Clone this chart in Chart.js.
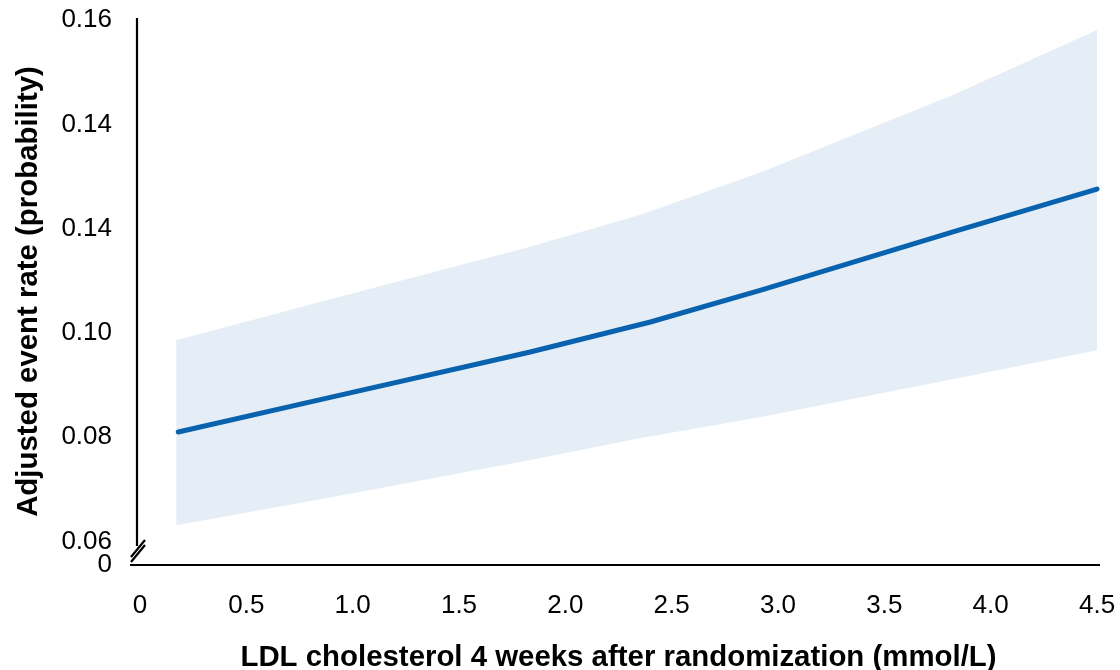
<!DOCTYPE html>
<html lang="en">
<head>
<meta charset="utf-8" />
<title>Adjusted event rate vs LDL cholesterol</title>
<style>
  body { margin: 0; background: #fff; }
  #wrap { width: 1120px; height: 670px; }
</style>
</head>
<body>
<div id="wrap"><canvas id="chart"></canvas></div>
<script src="https://cdn.jsdelivr.net/npm/chart.js@4.4.4/dist/chart.umd.min.js"></script>
<script>
  // LDL values (mmol/L) and fitted event rate
  const lineX = [0.18, 0.9, 1.83, 2.4, 2.92, 3.85, 4.5];
  const lineY = [0.081, 0.0877, 0.0963, 0.1021, 0.1082, 0.1197, 0.1276];

  // confidence band
  const bandX = [0.17, 0.9, 1.83, 2.35, 2.92, 3.82, 4.5];
  const bandUpper = [0.0986, 0.1065, 0.1165, 0.1226, 0.1308, 0.1456, 0.1581];
  const bandLower = [0.0631, 0.0685, 0.0756, 0.0798, 0.0839, 0.0911, 0.0967];

  // axis ticks (the y axis is broken below 0.06)
  const xTicks = [0, 0.5, 1.0, 1.5, 2.0, 2.5, 3.0, 3.5, 4.0, 4.5];
  const xTickLabels = ['0', '0.5', '1.0', '1.5', '2.0', '2.5', '3.0', '3.5', '4.0', '4.5'];
  const yTicks = [0.0555, 0.06, 0.08, 0.10, 0.12, 0.14, 0.16];
  const yTickLabels = ['0', '0.06', '0.08', '0.10', '0.14', '0.14', '0.16'];

  const pts = (xs, ys) => xs.map((x, i) => ({ x: x, y: ys[i] }));

  const brokenAxes = {
    id: 'brokenAxes',
    afterDraw(chart) {
      const { ctx, chartArea: a } = chart;
      ctx.save();
      ctx.strokeStyle = '#000';
      ctx.lineWidth = 2.2;
      ctx.beginPath();
      ctx.moveTo(a.left, a.top);
      ctx.lineTo(a.left, a.bottom - 19);
      ctx.moveTo(a.left - 7, a.bottom);
      ctx.lineTo(a.right, a.bottom);
      // break marks
      ctx.moveTo(a.left - 6, a.bottom - 8);
      ctx.lineTo(a.left + 8, a.bottom - 25);
      ctx.moveTo(a.left - 6, a.bottom - 3);
      ctx.lineTo(a.left + 8, a.bottom - 20);
      ctx.stroke();
      ctx.restore();
    }
  };

  const font = 'Arial, "Liberation Sans", sans-serif';

  new Chart(document.getElementById('chart'), {
    type: 'line',
    data: {
      datasets: [
        {
          data: pts(bandX, bandLower),
          borderWidth: 0,
          pointRadius: 0,
          fill: false,
          order: 2
        },
        {
          data: pts(bandX, bandUpper),
          borderWidth: 0,
          pointRadius: 0,
          fill: '-1',
          backgroundColor: '#e5eef6',
          order: 1
        },
        {
          data: pts(lineX, lineY),
          borderColor: '#0862ad',
          borderWidth: 5,
          borderCapStyle: 'round',
          pointRadius: 0,
          fill: false,
          tension: 0,
          order: 0
        }
      ]
    },
    options: {
      responsive: true,
      maintainAspectRatio: false,
      animation: false,
      layout: { padding: { left: 0, right: 20, top: 18, bottom: 0 } },
      plugins: { legend: { display: false }, tooltip: { enabled: false } },
      scales: {
        x: {
          type: 'linear',
          min: -0.014,
          max: 4.514,
          afterBuildTicks: s => { s.ticks = xTicks.map(v => ({ value: v })); },
          afterFit: s => {
            s.height = 105;
            s.paddingLeft = 0;
            s.paddingRight = 0;
          },
          grid: { display: false, drawTicks: false },
          border: { display: false },
          ticks: {
            autoSkip: false,
            maxRotation: 0,
            padding: 25,
            color: '#000',
            font: { family: font, size: 26 },
            callback: (v, i) => xTickLabels[i]
          },
          title: {
            display: true,
            text: 'LDL cholesterol 4 weeks after randomization (mmol/L)',
            color: '#000',
            font: { family: font, size: 29.4, weight: 'bold' },
            padding: { top: 0, bottom: -6 }
          }
        },
        y: {
          min: 0.0555,
          max: 0.1604,
          afterBuildTicks: s => { s.ticks = yTicks.map(v => ({ value: v })); },
          afterFit: s => {
            s.width = 137;
            s.paddingTop = 0;
            s.paddingBottom = 0;
          },
          grid: { display: false, drawTicks: false },
          border: { display: false },
          ticks: {
            autoSkip: false,
            padding: 25,
            color: '#000',
            font: { family: font, size: 26 },
            callback: (v, i) => yTickLabels[i]
          },
          title: {
            display: true,
            text: 'Adjusted event rate (probability)',
            color: '#000',
            font: { family: font, size: 29.4, weight: 'bold' },
            padding: { top: 11, bottom: 0 }
          }
        }
      }
    },
    plugins: [brokenAxes]
  });
</script>
</body>
</html>
